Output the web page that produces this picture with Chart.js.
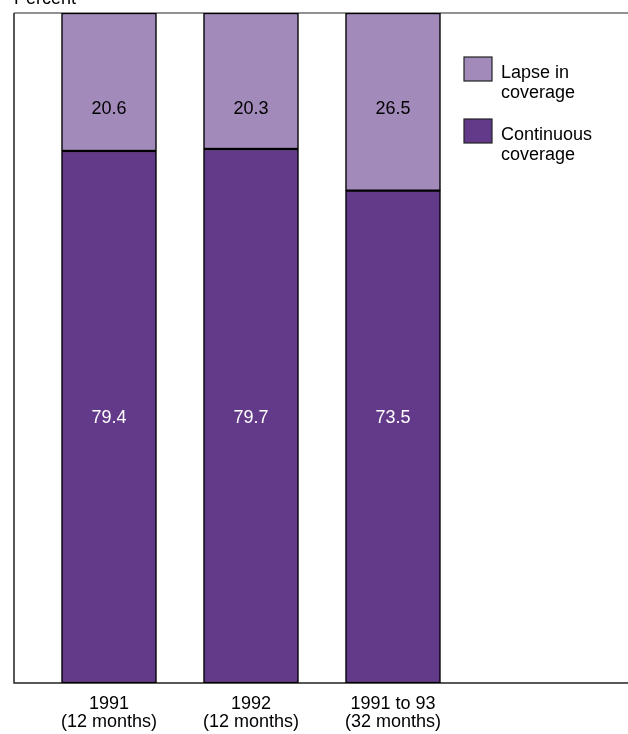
<!DOCTYPE html>
<html>
<head>
<meta charset="utf-8">
<script src="https://cdn.jsdelivr.net/npm/chart.js@4/dist/chart.umd.min.js"></script>
<style>
  html, body { margin: 0; padding: 0; background: #fff; }
  #wrap { width: 628px; height: 734px; position: relative; }
</style>
</head>
<body>
<div id="wrap"><canvas id="chart"></canvas></div>
<script>
// Coverage periods along the bottom, one bar each.
const categories = [['1991', '(12 months)'], ['1992', '(12 months)'], ['1991 to 93', '(32 months)']];
const categoryPositions = [1, 2, 3];

// Share of people, in percent.
const continuousCoverage = [79.4, 79.7, 73.5];
const lapseInCoverage = [20.6, 20.3, 26.5];

const seriesNames = ['Continuous coverage', 'Lapse in coverage'];
const legendLines = [['Lapse in', 'coverage'], ['Continuous', 'coverage']];

const darkPurple = '#63398a';
const lightPurple = '#a28aba';
const font = '"Liberation Sans", Arial, sans-serif';

function points(values) {
  return values.map((v, i) => ({ x: categoryPositions[i], y: v }));
}

// Frame lines, the unit caption, the numbers in each segment and the legend.
const decorations = {
  id: 'decorations',
  beforeDatasetsDraw(chart) {
    const { ctx, chartArea } = chart;
    ctx.save();
    ctx.lineWidth = 1.5;
    ctx.strokeStyle = '#6e6e6e';
    ctx.beginPath();
    ctx.moveTo(chartArea.left, chartArea.top);
    ctx.lineTo(chartArea.right, chartArea.top);
    ctx.stroke();
    ctx.strokeStyle = '#222';
    ctx.beginPath();
    ctx.moveTo(chartArea.left, chartArea.top);
    ctx.lineTo(chartArea.left, chartArea.bottom);
    ctx.lineTo(chartArea.right, chartArea.bottom);
    ctx.stroke();
    ctx.restore();
  },
  afterDatasetsDraw(chart) {
    const { ctx, scales } = chart;
    ctx.save();
    ctx.font = '18px ' + font;
    ctx.textAlign = 'left';
    ctx.textBaseline = 'alphabetic';
    ctx.fillStyle = '#000';
    ctx.fillText('Percent', 14, 4);

    // Segment values sit at two fixed heights
    ctx.textAlign = 'center';
    ctx.textBaseline = 'middle';
    const upperY = scales.y.getPixelForValue(85.7);
    const lowerY = scales.y.getPixelForValue(39.5);
    categoryPositions.forEach((pos, i) => {
      const x = scales.x.getPixelForValue(pos);
      ctx.fillStyle = '#000';
      ctx.fillText(lapseInCoverage[i].toFixed(1), x, upperY);
      ctx.fillStyle = '#fff';
      ctx.fillText(continuousCoverage[i].toFixed(1), x, lowerY);
    });

    // Legend, lapse first
    const entries = [chart.data.datasets[1], chart.data.datasets[0]];
    const boxX = 464, textX = 501;
    const boxTops = [57, 119];
    ctx.textAlign = 'left';
    ctx.textBaseline = 'middle';
    entries.forEach((ds, i) => {
      ctx.fillStyle = ds.backgroundColor;
      ctx.fillRect(boxX, boxTops[i], 28, 24);
      ctx.lineWidth = 1.2;
      ctx.strokeStyle = '#222';
      ctx.strokeRect(boxX, boxTops[i], 28, 24);
      ctx.fillStyle = '#000';
      legendLines[i].forEach((line, j) => {
        ctx.fillText(line, textX, boxTops[i] + 16 + j * 20);
      });
    });
    ctx.restore();
  }
};

const chart = new Chart(document.getElementById('chart'), {
  type: 'bar',
  data: {
    datasets: [
      {
        label: seriesNames[0],
        data: points(continuousCoverage),
        backgroundColor: darkPurple,
        borderColor: '#000',
        borderWidth: 1.5,
        borderSkipped: false
      },
      {
        label: seriesNames[1],
        data: points(lapseInCoverage),
        backgroundColor: lightPurple,
        borderColor: '#000',
        borderWidth: 1.5,
        borderSkipped: false
      }
    ]
  },
  options: {
    responsive: true,
    maintainAspectRatio: false,
    animation: false,
    layout: { padding: { left: 14, top: 13, right: 0, bottom: -9 } },
    datasets: { bar: { barThickness: 95 } },
    plugins: {
      legend: { display: false },
      tooltip: { enabled: false }
    },
    scales: {
      x: {
        type: 'linear',
        stacked: true,
        offset: false,
        min: 0.331,
        max: 4.655,
        afterBuildTicks: (axis) => {
          axis.ticks = categoryPositions.map(v => ({ value: v }));
        },
        grid: { display: false, drawTicks: false },
        border: { display: false },
        ticks: {
          autoSkip: false,
          maxRotation: 0,
          padding: 12,
          color: '#000',
          font: { family: font, size: 18, lineHeight: 1.0 },
          callback: (value) => categories[categoryPositions.indexOf(value)] || ''
        }
      },
      y: {
        stacked: true,
        display: false,
        min: 0,
        max: 100
      }
    }
  },
  plugins: [decorations]
});
</script>
</body>
</html>
